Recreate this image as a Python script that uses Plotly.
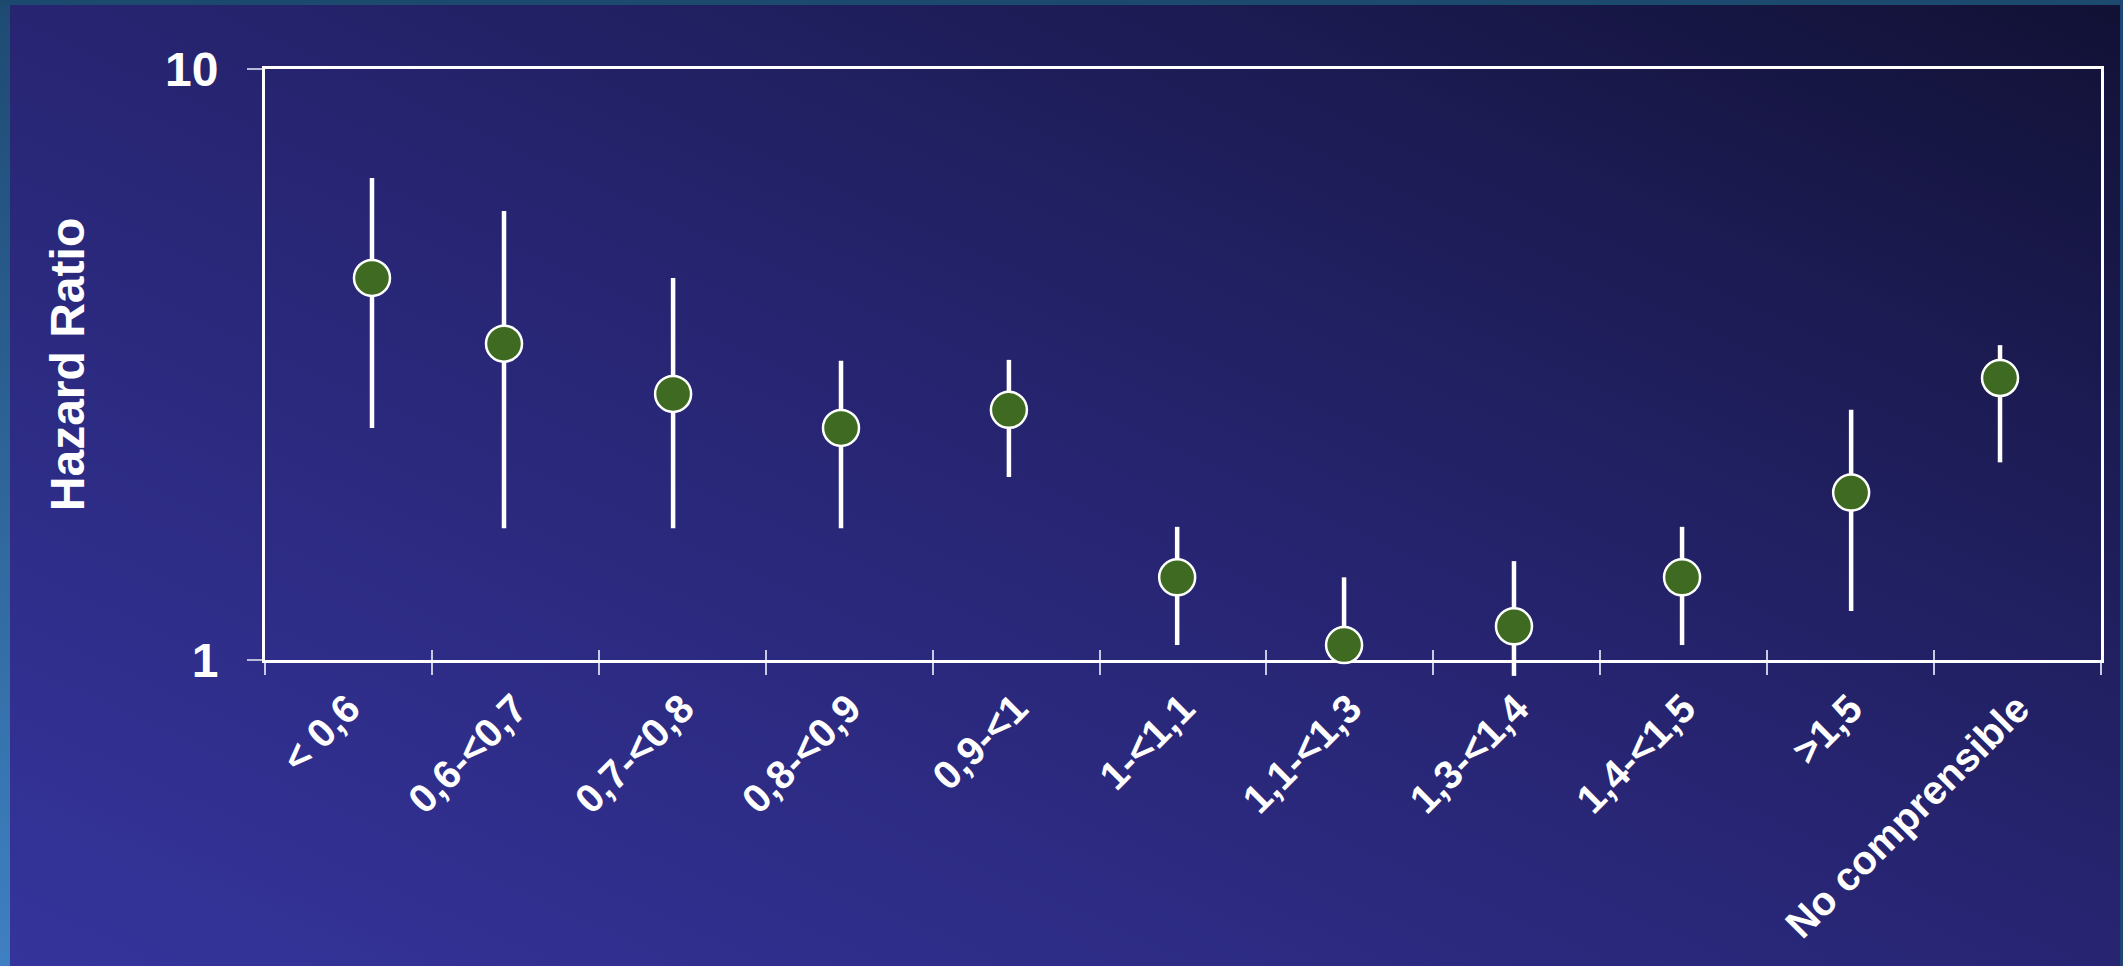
import base64
import plotly.graph_objects as go

# Hazard ratio by category, with 95% confidence interval limits
categories = ["< 0,6", "0,6-<0,7", "0,7-<0,8", "0,8-<0,9", "0,9-<1", "1-<1,1",
              "1,1-<1,3", "1,3-<1,4", "1,4-<1,5", ">1,5", "No comprensible"]
hazard_ratio = [4.43, 3.43, 2.82, 2.47, 2.65, 1.38, 1.06, 1.14, 1.38, 1.92, 3.00]
ci_lower = [2.47, 1.67, 1.67, 1.67, 2.04, 1.06, 1.00, 0.94, 1.06, 1.21, 2.16]
ci_upper = [6.54, 5.75, 4.43, 3.21, 3.22, 1.68, 1.38, 1.47, 1.68, 2.65, 3.41]
# position of each estimate inside its category slot (slot i spans i..i+1)
x_position = [0.641, 1.432, 2.445, 3.451, 4.457, 5.465, 6.465, 7.483, 8.490, 9.503, 10.395]
y_ticks = [1, 10]

W, H = 2123, 966
M_L, M_R, M_T, M_B = 265, 22, 69, 276
BELOW = 30                      # room under the x axis where whiskers may run on
PW, PH = W - M_L - M_R, H - M_T - M_B
DECADE_PX = PH - BELOW          # pixels per decade on the log axis

FONT = "Liberation Sans, Arial, sans-serif"

# slide-style diagonal gradient background
bg_svg = f"""<svg xmlns="http://www.w3.org/2000/svg" width="{W}" height="{H}" viewBox="0 0 {W} {H}" preserveAspectRatio="none">
<defs>
<linearGradient id="bg" x1="0" y1="1" x2="1" y2="0">
<stop offset="0" stop-color="#35349c"/>
<stop offset="0.5" stop-color="#272572"/>
<stop offset="0.75" stop-color="#1d1c56"/>
<stop offset="1" stop-color="#111135"/>
</linearGradient>
<linearGradient id="edge" x1="0" y1="0" x2="0" y2="1">
<stop offset="0" stop-color="#1e4a72"/>
<stop offset="1" stop-color="#3f80c2"/>
</linearGradient>
</defs>
<rect width="{W}" height="{H}" fill="url(#bg)"/>
<rect x="0" y="0" width="10" height="{H}" fill="url(#edge)"/>
<rect x="0" y="0" width="{W}" height="5" fill="#1c4a6e"/>
<rect x="{W-3}" y="0" width="3" height="{H}" fill="#1f4572"/>
</svg>"""
bg_uri = "data:image/svg+xml;base64," + base64.b64encode(bg_svg.encode()).decode()

err_plus = [u - m for u, m in zip(ci_upper, hazard_ratio)]
err_minus = [m - l for m, l in zip(hazard_ratio, ci_lower)]

fig = go.Figure()
# carrier trace so the framed x/y subplot is drawn
fig.add_trace(go.Scatter(x=[None], y=[None], showlegend=False, hoverinfo="skip"))
# estimates and intervals on a twin log axis that reaches a little below the frame
fig.add_trace(go.Scatter(
    x=x_position, y=hazard_ratio, mode="markers", yaxis="y2",
    marker=dict(size=36, color="#3e6b21", line=dict(color="white", width=2.5)),
    error_y=dict(type="data", symmetric=False, array=err_plus, arrayminus=err_minus,
                 color="white", thickness=4.5, width=0),
    cliponaxis=False, showlegend=False, hoverinfo="skip",
))
# carrier trace for the overlay axis holding the inner halves of the slot ticks
fig.add_trace(go.Scatter(x=[None], y=[None], xaxis="x2", showlegend=False, hoverinfo="skip"))

n = len(categories)
fig.update_layout(
    width=W, height=H,
    margin=dict(l=M_L, r=M_R, t=M_T, b=M_B, pad=0),
    paper_bgcolor="#272572",
    plot_bgcolor="rgba(0,0,0,0)",
    font=dict(family=FONT, color="white"),
    images=[dict(source=bg_uri, xref="paper", yref="paper",
                 x=-M_L / PW, y=1 + M_T / PH, sizex=W / PW, sizey=H / PH,
                 xanchor="left", yanchor="top", sizing="stretch", layer="below")],
    xaxis=dict(
        range=[0, n], showgrid=False, zeroline=False, anchor="y",
        showline=True, linecolor="white", linewidth=3, mirror=True,
        tickmode="array", tickvals=[i + 0.5 for i in range(n)], ticktext=categories,
        ticks="", tickangle=-45, ticklabelstandoff=6,
        tickfont=dict(family=FONT, size=40, color="white", weight="bold"),
        minor=dict(tickmode="array", tickvals=list(range(n + 1)), ticks="outside",
                   ticklen=12, tickwidth=2, tickcolor="#c9c9e6", showgrid=False),
    ),
    xaxis2=dict(
        overlaying="x", anchor="y", side="bottom", range=[0, n], showgrid=False,
        zeroline=False, showline=False, tickmode="array", tickvals=list(range(n + 1)),
        ticks="inside", ticklen=10, tickwidth=2, tickcolor="#c9c9e6",
        showticklabels=False,
    ),
    yaxis=dict(
        type="log", range=[0, 1], domain=[BELOW / PH, 1],
        showgrid=False, zeroline=False,
        showline=True, linecolor="white", linewidth=3, mirror=True,
        tickmode="array", tickvals=y_ticks, ticktext=[str(v) for v in y_ticks],
        ticks="outside", ticklen=15, tickwidth=2, tickcolor="#b9b9da",
        ticklabelstandoff=19,
        tickfont=dict(family=FONT, size=48, color="white", weight="bold"),
        title=dict(text="Hazard Ratio", standoff=66,
                   font=dict(family=FONT, size=48, color="white", weight="bold")),
    ),
    yaxis2=dict(
        type="log", range=[-BELOW / DECADE_PX, 1], domain=[0, 1], anchor="x",
        visible=False, showgrid=False, zeroline=False,
    ),
)

fig.write_html("out.html")
